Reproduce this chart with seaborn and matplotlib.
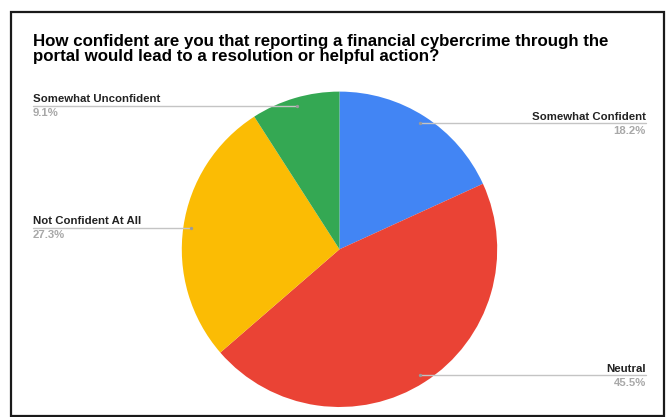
import matplotlib
matplotlib.use("Agg")
import matplotlib.pyplot as plt
import seaborn as sns
import numpy as np
from matplotlib.patches import Rectangle

# Survey answers, clockwise from 12 o'clock
categories = ["Somewhat Confident", "Neutral", "Not Confident At All", "Somewhat Unconfident"]
shares = [18.2, 45.5, 27.3, 9.1]
pct_labels = ["18.2%", "45.5%", "27.3%", "9.1%"]
colors = ["#4285F4", "#EA4335", "#FBBC04", "#34A853"]

title_lines = ["How confident are you that reporting a financial cybercrime through the",
               "portal would lead to a resolution or helpful action?"]

sns.set_theme(style="white")
plt.rcParams["font.family"] = ["Liberation Sans", "DejaVu Sans"]

W, H = 670, 417
fig = plt.figure(figsize=(W / 100, H / 100), dpi=100)
ax = fig.add_axes([0, 0, 1, 1])


def Y(y):
    """Convert a top-down pixel row into axis units."""
    return H - y


cx, cy, r = 339.5, 249.3, 157.7
wedges, _ = ax.pie(shares, colors=colors, startangle=90, counterclock=False,
                   center=(cx, Y(cy)), radius=r, frame=True,
                   wedgeprops=dict(linewidth=0))
ax.set_xlim(0, W)
ax.set_ylim(0, H)
ax.set_aspect("equal")
ax.axis("off")

# Chart border
ax.add_patch(Rectangle((10.5, Y(416)), 653.5, 404, fill=False,
                       edgecolor="#1a1a1a", linewidth=1.6, zorder=5))

# Two-line title, placed on its baselines
for line, base in zip(title_lines, [45.7, 60.7]):
    ax.text(33, Y(base), line, fontsize=12.2, fontweight="bold", color="#000000",
            ha="left", va="baseline")

# Leader lines and labels
left_x, right_x = 33, 646
total = sum(shares)
cum = 0.0
for cat, val, pct in zip(categories, shares, pct_labels):
    mid = 90 - (cum + val / 2) / total * 360
    cum += val
    px = cx + 0.95 * r * np.cos(np.radians(mid))
    py = Y(cy) + 0.95 * r * np.sin(np.radians(mid))
    if px > cx:
        x_end, ha = right_x, "right"
    else:
        x_end, ha = left_x, "left"
    ax.plot([px, x_end], [py, py], color="#c4c4c4", linewidth=1.0, zorder=3)
    ax.plot([px], [py], marker="o", markersize=2.4, color="#9a9a9a",
            markeredgewidth=0, zorder=4)
    ax.text(x_end, py + 1.5, cat, fontsize=8.2, fontweight="bold",
            color="#222222", ha=ha, va="bottom")
    ax.text(x_end, py - 2.5, pct, fontsize=8.2, fontweight="bold",
            color="#a8a8a8", ha=ha, va="top")

fig.savefig("out.png", dpi=100)
